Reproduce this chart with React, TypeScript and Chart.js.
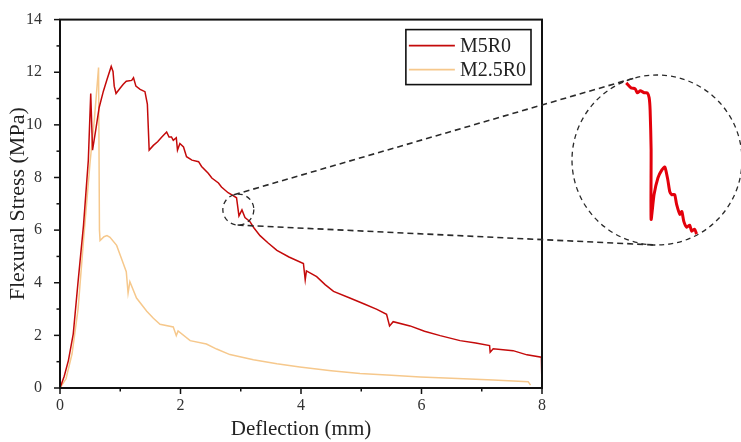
import React, { useEffect, useRef } from "react";
import { Chart, registerables } from "chart.js";
Chart.register(...registerables);

// ---- data ----
const seriesLabels = ["M5R0", "M2.5R0"];
const m5x = [0, 0.07, 0.14, 0.22, 0.3, 0.39, 0.47, 0.51, 0.54, 0.6, 0.65, 0.72, 0.78, 0.85, 0.88, 0.9, 0.93, 1.0, 1.05, 1.1, 1.19, 1.22, 1.26, 1.33, 1.41, 1.45, 1.48, 1.55, 1.62, 1.69, 1.77, 1.81, 1.85, 1.88, 1.93, 1.95, 1.99, 2.05, 2.1, 2.19, 2.3, 2.35, 2.46, 2.52, 2.63, 2.68, 2.79, 2.86, 2.93, 2.97, 3.02, 3.07, 3.15, 3.22, 3.32, 3.45, 3.6, 3.8, 4.04, 4.07, 4.09, 4.26, 4.4, 4.54, 4.81, 5.05, 5.26, 5.42, 5.47, 5.53, 5.81, 6.05, 6.31, 6.64, 6.9, 7.13, 7.14, 7.19, 7.52, 7.75, 7.99, 8.0];
const m5y = [0, 0.45, 1.05, 2.06, 4.04, 6.18, 8.65, 11.19, 9.04, 9.9, 10.66, 11.28, 11.72, 12.22, 12.03, 11.47, 11.19, 11.4, 11.54, 11.66, 11.69, 11.79, 11.47, 11.35, 11.26, 10.79, 9.04, 9.22, 9.36, 9.54, 9.73, 9.54, 9.54, 9.41, 9.51, 9.04, 9.29, 9.16, 8.79, 8.66, 8.6, 8.42, 8.16, 7.98, 7.79, 7.64, 7.42, 7.33, 7.23, 6.54, 6.77, 6.48, 6.33, 6.08, 5.79, 5.52, 5.23, 4.98, 4.73, 4.11, 4.45, 4.23, 3.93, 3.67, 3.42, 3.19, 2.99, 2.8, 2.36, 2.52, 2.36, 2.16, 1.99, 1.8, 1.71, 1.61, 1.36, 1.49, 1.42, 1.26, 1.17, 0];
const m25x = [0, 0.1, 0.2, 0.3, 0.39, 0.5, 0.57, 0.64, 0.655, 0.665, 0.73, 0.78, 0.83, 0.94, 1.02, 1.1, 1.13, 1.16, 1.27, 1.44, 1.55, 1.66, 1.88, 1.93, 1.96, 2.16, 2.43, 2.6, 2.82, 3.21, 3.6, 3.98, 4.5, 4.98, 5.5, 5.98, 6.6, 7.19, 7.77, 7.81];
const m25y = [0, 0.35, 1.3, 3.0, 5.6, 8.6, 10.2, 12.18, 6.0, 5.6, 5.75, 5.79, 5.73, 5.42, 4.92, 4.42, 3.61, 4.04, 3.42, 2.92, 2.65, 2.42, 2.32, 1.99, 2.17, 1.8, 1.67, 1.48, 1.27, 1.07, 0.92, 0.8, 0.66, 0.55, 0.48, 0.42, 0.36, 0.3, 0.24, 0.11];
// magnified detail around the zoom circle
const insetX = [2.866, 2.881, 2.893, 2.9, 2.909, 2.921, 2.93, 2.936, 2.939, 2.942, 2.942, 2.951, 2.963, 2.975, 2.984, 2.993, 2.999, 3.005, 3.014, 3.02, 3.03, 3.036, 3.042, 3.051, 3.06, 3.066, 3.075, 3.081];
const insetY = [7.288, 7.255, 7.249, 7.223, 7.236, 7.223, 7.223, 7.19, 7.106, 6.845, 6.389, 6.552, 6.663, 6.715, 6.734, 6.65, 6.572, 6.552, 6.552, 6.487, 6.422, 6.441, 6.376, 6.337, 6.35, 6.311, 6.324, 6.292];
const zoomCenter = { x: 2.96, y: 6.78 };
const insetXRange = [2.7, 3.22];
const insetYRange = [6.22, 7.34];
const xRange = [0, 8];
const yRange = [0, 14];
const xTickStep = 2;
const yTickStep = 2;
const xTitle = "Deflection (mm)";
const yTitle = "Flexural Stress (MPa)";

// ---- styles ----
const FONT = "'Liberation Serif', 'Times New Roman', serif";
const RED = "#c40a0a";
const ORANGE = "#f6c88c";
const INSET_RED = "#e3000b";
const INSET = { cx: 657, cy: 160, r: 85 };
const SMALL_R = 15.5;
const W = 741;
const H = 442;

const pts = (xs: number[], ys: number[]) => xs.map((x, i) => ({ x, y: ys[i] }));

const decor = {
  id: "decor",
  afterDraw(chart: any) {
    const { ctx, chartArea: a, scales } = chart;
    const x = scales.x;
    const y = scales.y;
    ctx.save();
    // tick marks
    ctx.strokeStyle = "#111";
    ctx.lineWidth = 1.5;
    for (let v = xRange[0]; v <= xRange[1]; v++) {
      const px = x.getPixelForValue(v);
      const len = v % 2 === 0 ? 6 : 3.5;
      ctx.beginPath();
      ctx.moveTo(px, a.bottom);
      ctx.lineTo(px, a.bottom + len);
      ctx.stroke();
    }
    for (let v = yRange[0]; v <= yRange[1]; v++) {
      const py = y.getPixelForValue(v);
      const len = v % 2 === 0 ? 6 : 3.5;
      ctx.beginPath();
      ctx.moveTo(a.left - len, py);
      ctx.lineTo(a.left, py);
      ctx.stroke();
    }
    // frame
    ctx.lineWidth = 2;
    ctx.strokeRect(a.left, a.top, a.right - a.left, a.bottom - a.top);

    // zoom circles
    const sx = x.getPixelForValue(zoomCenter.x);
    const sy = y.getPixelForValue(zoomCenter.y);
    ctx.setLineDash([5, 4]);
    ctx.lineWidth = 1.3;
    ctx.strokeStyle = "#2a2a2a";
    ctx.beginPath();
    ctx.arc(sx, sy, SMALL_R, 0, Math.PI * 2);
    ctx.stroke();
    ctx.beginPath();
    ctx.arc(INSET.cx, INSET.cy, INSET.r, 0, Math.PI * 2);
    ctx.stroke();
    // external tangents
    const dx = INSET.cx - sx;
    const dy = INSET.cy - sy;
    const d = Math.hypot(dx, dy);
    const ux = dx / d;
    const uy = dy / d;
    const s = (INSET.r - SMALL_R) / d;
    const c = Math.sqrt(1 - s * s);
    ctx.setLineDash([6, 4]);
    ctx.lineWidth = 1.6;
    for (const sign of [1, -1]) {
      const px = -uy * sign;
      const py = ux * sign;
      const nx = -s * ux + c * px;
      const ny = -s * uy + c * py;
      ctx.beginPath();
      ctx.moveTo(sx + SMALL_R * nx, sy + SMALL_R * ny);
      ctx.lineTo(INSET.cx + INSET.r * nx, INSET.cy + INSET.r * ny);
      ctx.stroke();
    }
    ctx.setLineDash([]);

    // legend
    ctx.font = `20px ${FONT}`;
    const ds = chart.data.datasets;
    const tw = Math.max(...ds.map((d: any) => ctx.measureText(d.label).width));
    const lineLen = 46;
    const rowH = 24;
    const boxW = 3 + lineLen + 5 + tw + 5;
    const boxH = rowH * ds.length + 7;
    const bx = a.right - 11 - boxW;
    const by = a.top + 10;
    ctx.fillStyle = "#fff";
    ctx.fillRect(bx, by, boxW, boxH);
    ctx.strokeStyle = "#111";
    ctx.lineWidth = 1.6;
    ctx.strokeRect(bx, by, boxW, boxH);
    ds.forEach((d: any, i: number) => {
      const ry = by + 4 + rowH * i + rowH / 2;
      ctx.strokeStyle = d.borderColor;
      ctx.lineWidth = 1.6;
      ctx.beginPath();
      ctx.moveTo(bx + 3, ry);
      ctx.lineTo(bx + 3 + lineLen, ry);
      ctx.stroke();
      ctx.fillStyle = "#222";
      ctx.textBaseline = "middle";
      ctx.textAlign = "left";
      ctx.fillText(d.label, bx + 3 + lineLen + 5, ry + 1);
    });
    ctx.restore();
  },
};

export default function App() {
  const mainRef = useRef<HTMLCanvasElement>(null);
  const insetRef = useRef<HTMLCanvasElement>(null);

  useEffect(() => {
    const chart = new Chart(mainRef.current as HTMLCanvasElement, {
      type: "line",
      data: {
        datasets: [
          { label: seriesLabels[0], data: pts(m5x, m5y), borderColor: RED, borderWidth: 1.5, pointRadius: 0, tension: 0, order: 1 },
          { label: seriesLabels[1], data: pts(m25x, m25y), borderColor: ORANGE, borderWidth: 1.5, pointRadius: 0, tension: 0, order: 2 },
        ],
      },
      options: {
        responsive: false,
        animation: false,
        devicePixelRatio: 1,
        layout: { padding: { top: 13, right: W - 542, left: 0, bottom: 0 } },
        plugins: { legend: { display: false }, tooltip: { enabled: false } },
        scales: {
          x: {
            type: "linear",
            min: xRange[0],
            max: xRange[1],
            grid: { display: false },
            border: { display: false },
            ticks: { stepSize: xTickStep, padding: 0, color: "#333", font: { family: FONT, size: 16 } },
            title: { display: true, text: xTitle, color: "#222", font: { family: FONT, size: 21 }, padding: { top: 0, bottom: 0 } },
            afterFit: (s: any) => { s.height = 54; },
          },
          y: {
            type: "linear",
            min: yRange[0],
            max: yRange[1],
            grid: { display: false },
            border: { display: false },
            ticks: { stepSize: yTickStep, padding: 10, color: "#333", font: { family: FONT, size: 16 } },
            title: { display: true, text: yTitle, color: "#222", font: { family: FONT, size: 22 }, padding: { top: 5, bottom: 0 } },
            afterFit: (s: any) => { s.width = 60; },
          },
        },
      } as any,
      plugins: [decor],
    });

    const inset = new Chart(insetRef.current as HTMLCanvasElement, {
      type: "line",
      data: {
        datasets: [
          { label: seriesLabels[0], data: pts(insetX, insetY), borderColor: INSET_RED, borderWidth: 3, pointRadius: 0, tension: 0.2, clip: false } as any,
        ],
      },
      options: {
        responsive: false,
        animation: false,
        devicePixelRatio: 1,
        layout: { padding: 0 },
        plugins: { legend: { display: false }, tooltip: { enabled: false } },
        scales: {
          x: { type: "linear", min: insetXRange[0], max: insetXRange[1], display: false },
          y: { type: "linear", min: insetYRange[0], max: insetYRange[1], display: false },
        },
      } as any,
    });

    return () => {
      chart.destroy();
      inset.destroy();
    };
  }, []);

  return (
    <div style={{ position: "absolute", left: 0, top: 0, width: W, height: H, overflow: "hidden", background: "#fff" }}>
      <canvas ref={mainRef} width={W} height={H} style={{ position: "absolute", left: 0, top: 0 }} />
      <canvas
        ref={insetRef}
        width={INSET.r * 2}
        height={INSET.r * 2}
        style={{ position: "absolute", left: INSET.cx - INSET.r, top: INSET.cy - INSET.r }}
      />
    </div>
  );
}
